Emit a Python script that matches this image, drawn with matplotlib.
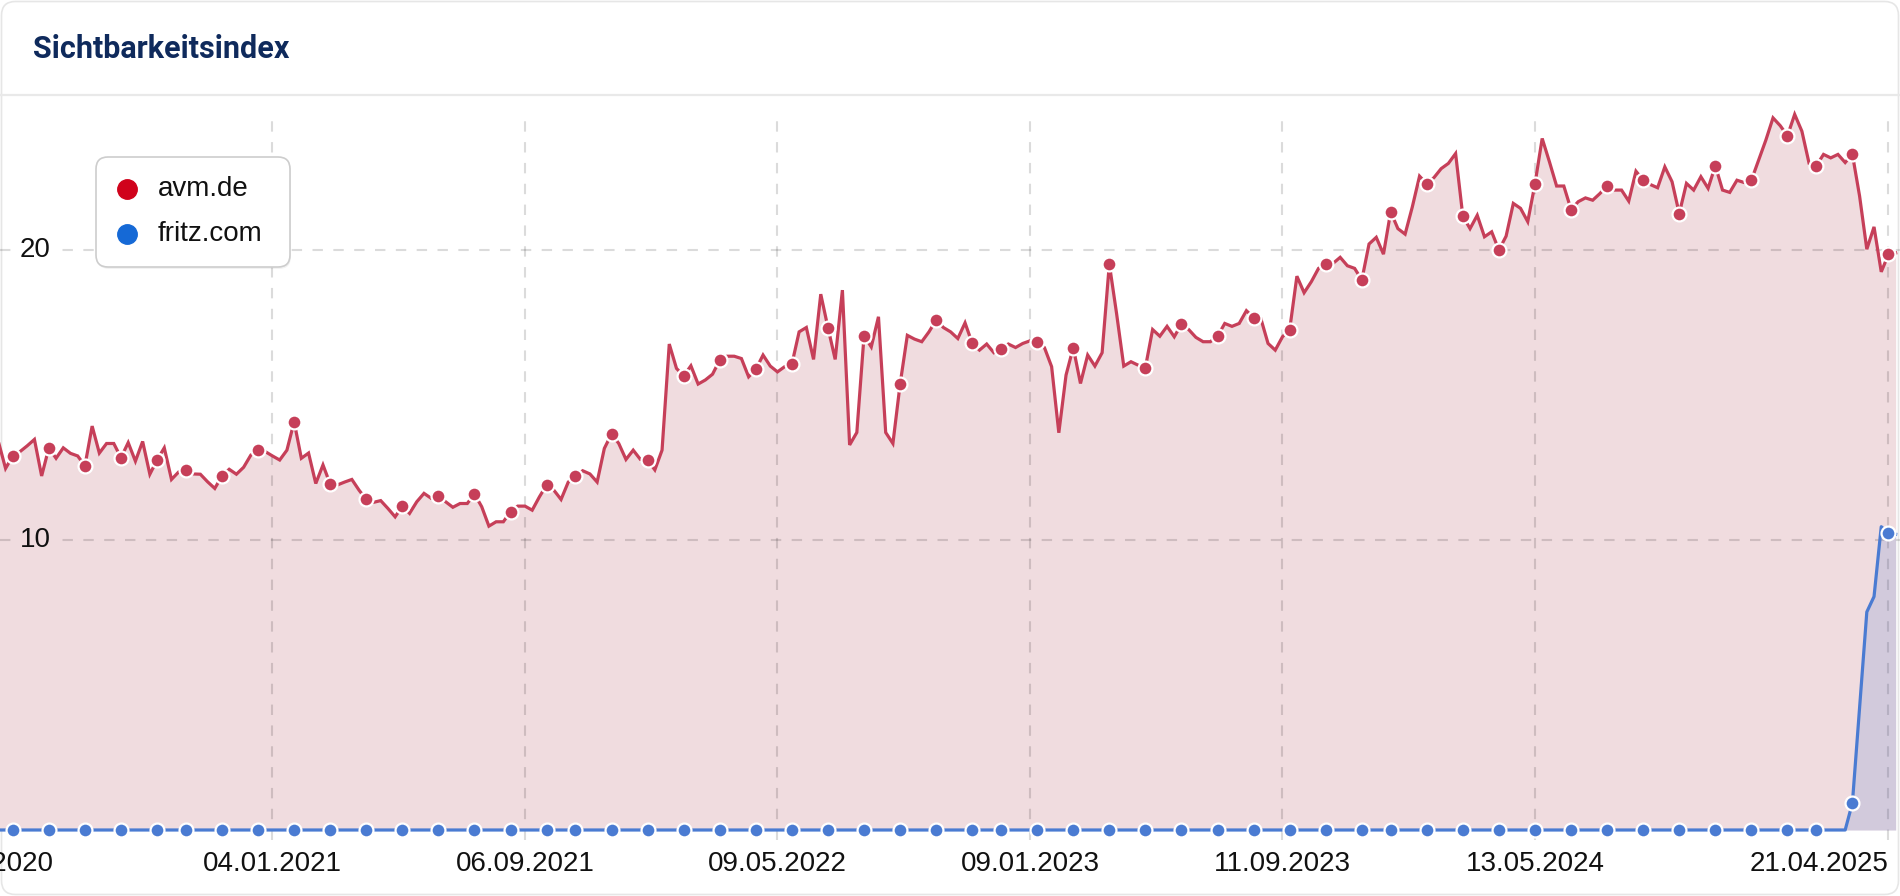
import matplotlib
matplotlib.use('Agg')
import matplotlib.pyplot as plt
from matplotlib.patches import FancyBboxPatch
from matplotlib.lines import Line2D
from matplotlib.transforms import Affine2D, blended_transform_factory
import pandas as pd

# weekly values, first week 13.04.2020, last week 27.04.2025
dates = pd.date_range('2020-04-13', periods=264, freq='7D')

avm = [
    13.40, 12.47, 12.90, 13.05, 13.25, 13.47, 12.21, 13.18, 12.82, 13.18,
    12.99, 12.90, 12.56, 13.93, 13.00, 13.33, 13.33, 12.84, 13.36, 12.72,
    13.40, 12.27, 12.76, 13.18, 12.09, 12.35, 12.41, 12.28, 12.27, 12.01,
    11.78, 12.21, 12.44, 12.27, 12.51, 12.93, 13.10, 13.05, 12.90, 12.76,
    13.10, 14.08, 12.82, 13.00, 11.95, 12.59, 11.93, 11.90, 12.00, 12.09,
    11.72, 11.40, 11.30, 11.36, 11.09, 10.80, 11.17, 10.92, 11.32, 11.61,
    11.44, 11.52, 11.32, 11.13, 11.26, 11.26, 11.59, 11.15, 10.48, 10.63,
    10.63, 10.98, 11.17, 11.17, 11.03, 11.49, 11.90, 11.72, 11.40, 12.00,
    12.21, 12.39, 12.28, 12.00, 13.16, 13.66, 13.33, 12.78, 13.10, 12.78,
    12.76, 12.42, 13.10, 16.76, 15.92, 15.66, 16.01, 15.38, 15.52, 15.72,
    16.21, 16.34, 16.34, 16.26, 15.63, 15.89, 16.38, 16.00, 15.80, 15.98,
    16.07, 17.18, 17.33, 16.23, 18.48, 17.32, 16.23, 18.62, 13.28, 13.71,
    17.05, 16.66, 17.70, 13.71, 13.33, 15.38, 17.06, 16.93, 16.84, 17.18,
    17.59, 17.33, 17.18, 16.95, 17.49, 16.78, 16.55, 16.76, 16.46, 16.58,
    16.76, 16.64, 16.78, 16.87, 16.84, 16.64, 15.98, 13.70, 15.69, 16.64,
    15.40, 16.38, 16.00, 16.46, 19.52, 17.82, 16.00, 16.15, 16.03, 15.95,
    17.26, 17.03, 17.37, 17.01, 17.45, 17.26, 16.99, 16.84, 16.84, 17.03,
    17.47, 17.37, 17.47, 17.91, 17.67, 17.64, 16.78, 16.55, 17.01, 17.26,
    19.10, 18.53, 18.91, 19.37, 19.52, 19.54, 19.75, 19.46, 19.37, 18.97,
    20.21, 20.44, 19.86, 21.32, 20.74, 20.55, 21.49, 22.55, 22.28, 22.50,
    22.81, 22.99, 23.33, 21.17, 20.74, 21.20, 20.46, 20.63, 20.00, 20.48,
    21.61, 21.44, 20.98, 22.28, 23.85, 23.05, 22.21, 22.21, 21.40, 21.67,
    21.80, 21.72, 21.95, 22.22, 22.07, 22.07, 21.69, 22.72, 22.41, 22.26,
    22.15, 22.87, 22.36, 21.26, 22.30, 22.07, 22.53, 22.13, 22.91, 22.07,
    21.99, 22.41, 22.33, 22.41, 23.10, 23.79, 24.56, 24.29, 23.94, 24.68,
    24.10, 22.99, 22.91, 23.30, 23.18, 23.30, 23.02, 23.31, 21.86, 20.03,
    20.80, 19.25, 19.85, 19.90,
]

fritz = [
    0, 0, 0, 0, 0, 0, 0, 0, 0, 0, 0, 0, 0, 0, 0, 0, 0, 0, 0, 0,
    0, 0, 0, 0, 0, 0, 0, 0, 0, 0, 0, 0, 0, 0, 0, 0, 0, 0, 0, 0,
    0, 0, 0, 0, 0, 0, 0, 0, 0, 0, 0, 0, 0, 0, 0, 0, 0, 0, 0, 0,
    0, 0, 0, 0, 0, 0, 0, 0, 0, 0, 0, 0, 0, 0, 0, 0, 0, 0, 0, 0,
    0, 0, 0, 0, 0, 0, 0, 0, 0, 0, 0, 0, 0, 0, 0, 0, 0, 0, 0, 0,
    0, 0, 0, 0, 0, 0, 0, 0, 0, 0, 0, 0, 0, 0, 0, 0, 0, 0, 0, 0,
    0, 0, 0, 0, 0, 0, 0, 0, 0, 0, 0, 0, 0, 0, 0, 0, 0, 0, 0, 0,
    0, 0, 0, 0, 0, 0, 0, 0, 0, 0, 0, 0, 0, 0, 0, 0, 0, 0, 0, 0,
    0, 0, 0, 0, 0, 0, 0, 0, 0, 0, 0, 0, 0, 0, 0, 0, 0, 0, 0, 0,
    0, 0, 0, 0, 0, 0, 0, 0, 0, 0, 0, 0, 0, 0, 0, 0, 0, 0, 0, 0,
    0, 0, 0, 0, 0, 0, 0, 0, 0, 0, 0, 0, 0, 0, 0, 0, 0, 0, 0, 0,
    0, 0, 0, 0, 0, 0, 0, 0, 0, 0, 0, 0, 0, 0, 0, 0, 0, 0, 0, 0,
    0, 0, 0, 0, 0, 0, 0, 0, 0, 0, 0, 0, 0, 0, 0, 0, 0,
    0.93, 4.20, 7.52, 8.05, 10.46, 10.24, 10.20,
]

# weeks that get a dot (index into the weekly lists)
marker_idx = [2, 7, 12, 17, 22, 26, 31, 36, 41, 46, 51, 56, 61, 66, 71, 76,
              80, 85, 90, 95, 100, 105, 110, 115, 120, 125, 130, 135, 139,
              144, 149, 154, 159, 164, 169, 174, 179, 184, 189, 193, 198,
              203, 208, 213, 218, 223, 228, 233, 238, 243, 248, 252, 257, 262]

tick_dates = ['30.03.2020', '04.01.2021', '06.09.2021', '09.05.2022',
              '09.01.2023', '11.09.2023', '13.05.2024', '21.04.2025']
y_ticks = [10, 20]

red = '#c63f59'
blue = '#4a7bd2'
pink = '#f0dcdf'
label_font = ['Liberation Sans', 'DejaVu Sans']

W, H = 1900, 896
fig = plt.figure(figsize=(W / 100, H / 100), dpi=100)
px = Affine2D().scale(1 / 100) + fig.dpi_scale_trans

# card + header (behind the axes)
card = FancyBboxPatch((1.5, 1.5), W - 3, H - 3,
                      boxstyle='round,pad=0,rounding_size=14',
                      transform=px, fc='white', ec='#e6e6e6', lw=1.2,
                      zorder=-2)
fig.add_artist(card)
fig.add_artist(Line2D([0, W], [H - 95, H - 95], transform=px,
                      color='#e9e9e9', lw=1.6, zorder=-1))
fig.text(33, H - 49, 'Sichtbarkeitsindex', transform=px, ha='left',
         va='center', fontsize=22, fontweight='bold',
         family=['Roboto', 'DejaVu Sans'], color='#0f2a5c')

ax = fig.add_axes([0, (H - 840) / H, 1, (840 - 97) / H])
ax.patch.set_visible(False)
for s in ax.spines.values():
    s.set_visible(False)
ax.set_ylim(-0.345, 25.28)
ax.set_xlim(dates[0] + pd.Timedelta(days=1.6),
            dates[-1] + pd.Timedelta(days=4.2))
ax.set_xticks([])
ax.set_yticks([])

ax.fill_between(dates, 0, avm, color=pink, lw=0, zorder=1)
ax.fill_between(dates, 0, fritz, color=blue, alpha=0.18, lw=0, zorder=2.5)

grid_kw = dict(color='black', alpha=0.14, lw=1.5, dashes=(5, 5), zorder=2)
for v in y_ticks:
    ax.axhline(v, **grid_kw)
xmin, xmax = ax.get_xlim()
tick_ts = [pd.to_datetime(d, format='%d.%m.%Y') for d in tick_dates]
for t in tick_ts:
    if xmin <= matplotlib.dates.date2num(t) <= xmax:
        ax.axvline(t, ymax=0.98, **grid_kw)

ax.plot(dates, avm, color=red, lw=2.3, zorder=3, solid_joinstyle='miter')
ax.plot(dates, fritz, color=blue, lw=2.3, zorder=4)
mk = dict(marker='o', ms=10, mew=1.6, mec='white', ls='none')
ax.plot(dates[marker_idx], [avm[i] for i in marker_idx], mfc=red,
        zorder=5, clip_on=False, **mk)
ax.plot(dates[marker_idx], [fritz[i] for i in marker_idx], mfc=blue,
        zorder=6, clip_on=False, **mk)

# y labels sit on the grid lines
ytr = blended_transform_factory(ax.transAxes, ax.transData)
for v in y_ticks:
    bg = 'white' if avm[0] < v else pink
    ax.text(20 / W, v, str(v), transform=ytr, ha='left', va='center',
            fontsize=20, family=label_font, color='#111111', zorder=7,
            bbox=dict(fc=bg, ec='none', pad=3))

# date labels; the last one is kept inside the card
xtr = blended_transform_factory(ax.transData, ax.transAxes)
for i, (t, lab) in enumerate(zip(tick_ts, tick_dates)):
    ha = 'right' if i == len(tick_dates) - 1 else 'center'
    ax.text(t, -24 / 743, lab, transform=xtr, ha=ha, va='center',
            fontsize=20, family=label_font, color='#111111', clip_on=False)

# legend box
shadow = FancyBboxPatch((97, H - 269), 194, 110,
                        boxstyle='round,pad=0,rounding_size=12',
                        transform=px, fc='black', ec='none', alpha=0.05,
                        zorder=3)
fig.add_artist(shadow)
box = FancyBboxPatch((96, H - 267), 194, 110,
                     boxstyle='round,pad=0,rounding_size=12',
                     transform=px, fc='white', ec='#cdcdcd', lw=1.2,
                     zorder=3)
fig.add_artist(box)
for y, name, c in [(189, 'avm.de', '#d0021b'), (234, 'fritz.com', '#1569d6')]:
    fig.add_artist(Line2D([127], [H - y], transform=px, marker='o', ms=14,
                          color=c, ls='none', zorder=4))
    fig.text(158, H - y, name, transform=px, ha='left', va='center',
             fontsize=20, family=label_font, color='#111111', zorder=4)

fig.savefig('out.png', dpi=100)
